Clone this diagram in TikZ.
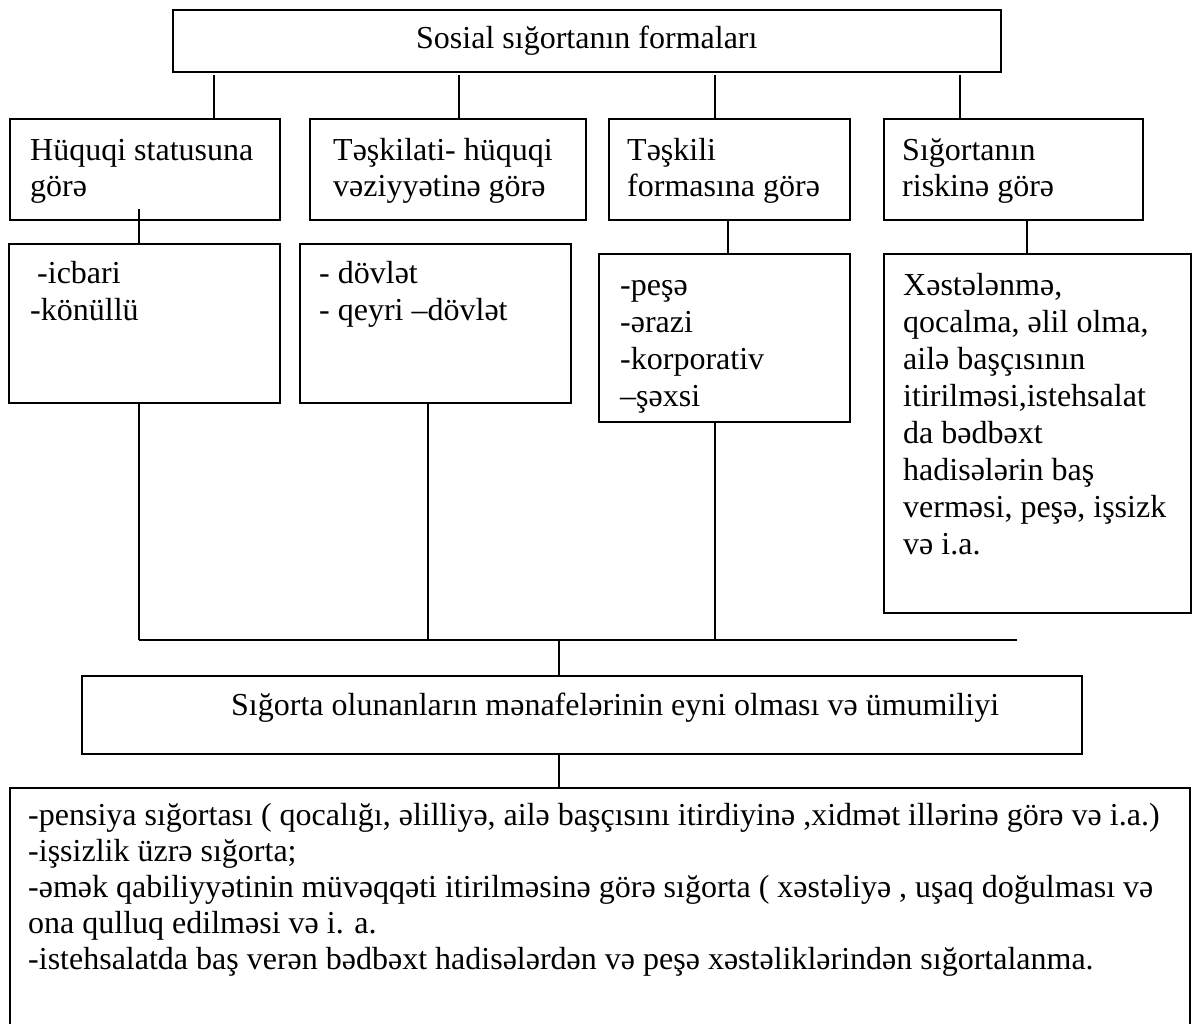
\documentclass[tikz,border=0pt]{standalone}
\usepackage{fontspec}
\setmainfont{Liberation Serif}
\begin{document}
\begin{tikzpicture}[x=1pt,y=-1pt,
  box/.style={draw,line width=1.5pt,inner sep=0pt,anchor=north west},
  txt/.style={anchor=base west,inner sep=0pt,font=\fontsize{32}{37}\selectfont},
  conn/.style={line width=1.5pt}]
\useasboundingbox (0,0) rectangle (1193,1023);
% boxes
\node[box,minimum width=828pt,minimum height=62pt] (top) at (172,9) {};
\node[box,minimum width=270pt,minimum height=101pt] (b1) at (9,118) {};
\node[box,minimum width=276pt,minimum height=101pt] (b2) at (309,118) {};
\node[box,minimum width=241pt,minimum height=101pt] (b3) at (608,118) {};
\node[box,minimum width=259pt,minimum height=101pt] (b4) at (883,118) {};
\node[box,minimum width=271pt,minimum height=159pt] (b5) at (8,243) {};
\node[box,minimum width=271pt,minimum height=159pt] (b6) at (299,243) {};
\node[box,minimum width=251pt,minimum height=168pt] (b7) at (598,253) {};
\node[box,minimum width=307pt,minimum height=359pt] (b8) at (883,253) {};
\node[box,minimum width=1000pt,minimum height=78pt] (b9) at (81,675) {};
\node[box,minimum width=1180pt,minimum height=260pt] (b10) at (9,787) {};
% texts
\node[txt] (tt) at (416,48) {Sosial sığortanın formaları};
\node[txt] (t1a) at (30,160) {Hüquqi statusuna};
\node[txt] (t1b) at (30,196) {görə};
\node[txt] (t2a) at (333,160) {Təşkilati- hüquqi};
\node[txt] (t2b) at (333,196) {vəziyyətinə görə};
\node[txt] (t3a) at (627,160) {Təşkili};
\node[txt] (t3b) at (627,196) {formasına görə};
\node[txt] (t4a) at (902,160) {Sığortanın};
\node[txt] (t4b) at (902,196) {riskinə görə};
\node[txt] (t5a) at (37,283) {-icbari};
\node[txt] (t5b) at (30,320) {-könüllü};
\node[txt] (t6a) at (319,283) {- dövlət};
\node[txt] (t6b) at (319,320) {- qeyri –dövlət};
\node[txt] (t7a) at (620,295) {-peşə};
\node[txt] (t7b) at (620,332) {-ərazi};
\node[txt] (t7c) at (620,369) {-korporativ};
\node[txt] (t7d) at (620,406) {–şəxsi};
\node[txt] (t8a) at (903,295) {Xəstələnmə,};
\node[txt] (t8b) at (903,332) {qocalma, əlil olma,};
\node[txt] (t8c) at (903,369) {ailə başçısının};
\node[txt] (t8d) at (903,406) {itirilməsi,istehsalat};
\node[txt] (t8e) at (903,443) {da bədbəxt};
\node[txt] (t8f) at (903,480) {hadisələrin baş};
\node[txt] (t8g) at (903,517) {verməsi, peşə, işsizk};
\node[txt] (t8h) at (903,554) {və i.a.};
\node[txt] (t9) at (231,715) {Sığorta olunanların mənafelərinin eyni olması və ümumiliyi};
\node[txt] (t10a) at (28,825) {-pensiya sığortası ( qocalığı, əlilliyə, ailə başçısını itirdiyinə ,xidmət illərinə görə və i.a.)};
\node[txt] (t10b) at (28,861) {-işsizlik üzrə sığorta;};
\node[txt] (t10c) at (28,897) {-əmək qabiliyyətinin müvəqqəti itirilməsinə görə sığorta ( xəstəliyə , uşaq doğulması və};
\node[txt] (t10d) at (28,933) {ona qulluq edilməsi və i. a.};
\node[txt] (t10e) at (28,969) {-istehsalatda baş verən bədbəxt hadisələrdən və peşə xəstəliklərindən sığortalanma.};
% connector coordinates
\coordinate (c1) at (214,75);
\coordinate (c2) at (459,75);
\coordinate (c3) at (715,75);
\coordinate (c4) at (960,75);
\coordinate (c5) at (139,209);
\coordinate (c7) at (728,219);
\coordinate (c8) at (1027,219);
\coordinate (h1) at (139,640);
\coordinate (h2) at (428,640);
\coordinate (h3) at (715,640);
\coordinate (h4) at (1017,640);
\coordinate (hm) at (559,640);
% connectors
\draw[conn] (c1) -- (c1 |- b1.north);
\draw[conn] (c2) -- (c2 |- b2.north);
\draw[conn] (c3) -- (c3 |- b3.north);
\draw[conn] (c4) -- (c4 |- b4.north);
\draw[conn] (c5) -- (c5 |- b5.north);
\draw[conn] (c7) -- (c7 |- b7.north);
\draw[conn] (c8) -- (c8 |- b8.north);
\draw[conn] (h1 |- b5.south) -- (h1);
\draw[conn] (h2 |- b6.south) -- (h2);
\draw[conn] (h3 |- b7.south) -- (h3);
\draw[conn] (h1) -- (h4);
\draw[conn] (hm) -- (hm |- b9.north);
\draw[conn] (hm |- b9.south) -- (hm |- b10.north);
\end{tikzpicture}
\end{document}
